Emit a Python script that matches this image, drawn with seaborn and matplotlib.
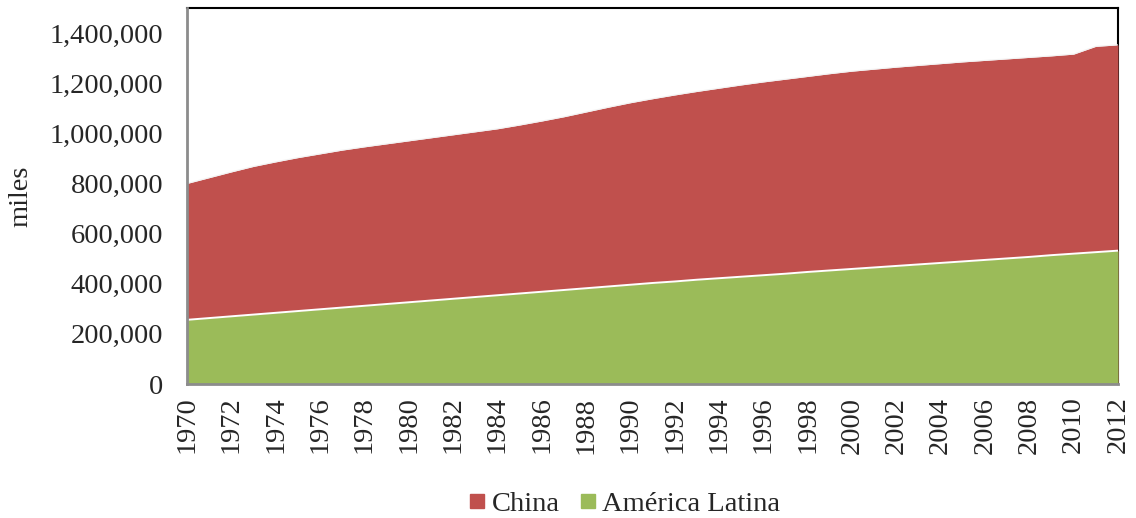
import numpy as np
import pandas as pd
import matplotlib
matplotlib.use("Agg")
import matplotlib.pyplot as plt
from matplotlib.lines import Line2D
import seaborn as sns

years = list(range(1970, 2013))
china = [800, 823, 846, 868, 886, 903, 918, 933, 946, 958,
         970, 982, 994, 1006, 1018, 1033, 1049, 1066, 1085, 1104,
         1122, 1138, 1153, 1167, 1180, 1193, 1205, 1216, 1227, 1238,
         1248, 1256, 1264, 1271, 1278, 1285, 1291, 1297, 1303, 1309,
         1316, 1347, 1353]
latam = [256, 263, 270, 277, 284, 291, 298, 305, 312, 319,
         326, 333, 340, 347, 354, 361, 368, 375, 382, 389,
         396, 403, 409, 416, 422, 428, 434, 440, 447, 453,
         459, 465, 471, 477, 483, 489, 495, 501, 507, 514,
         520, 526, 532]
series_names = ["China", "América Latina"]
colors = ["#C0504D", "#9BBB59"]

df = pd.DataFrame({"year": years,
                   "China": np.array(china) * 1000,
                   "América Latina": np.array(latam) * 1000})

sns.set_theme(style="white")
plt.rcParams["font.family"] = ["Liberation Serif", "DejaVu Serif"]

fig = plt.figure(figsize=(11.36, 5.18), dpi=100)
ax = fig.add_axes([187/1136, 1-384/518, (1118-187)/1136, (384-8)/518])

edge_colors = ["#f2f2f2", "white"]
for i, name in enumerate(series_names):
    ax.fill_between(df["year"], 0, df[name], color=colors[i], linewidth=0, zorder=2+i*2)
    sns.lineplot(data=df, x="year", y=name, ax=ax, color=edge_colors[i],
                 linewidth=1.4 if i else 0.8, zorder=3+i*2)

ax.set_xlim(1970, 2012)
ax.set_ylim(0, 1500000)
ax.set_xticks(years[::2])
ax.set_xticklabels([str(y) for y in years[::2]], rotation=90, fontsize=20.5)
ax.set_yticks(np.arange(0, 1400001, 200000))
ax.set_yticklabels([f"{v:,}" for v in range(0, 1400001, 200000)], fontsize=20.5)
ax.tick_params(axis="y", length=0, pad=17)
ax.tick_params(axis="x", length=0, pad=9)
ax.set_xlabel("")
ax.set_ylabel("miles", fontsize=20.5, va="center")
ax.yaxis.set_label_coords((21-187)/931, (384-196)/376)

for side in ["top", "right"]:
    ax.spines[side].set_color("black")
    ax.spines[side].set_linewidth(1.5)
    ax.spines[side].set_zorder(1)
for side in ["left", "bottom"]:
    ax.spines[side].set_color("#8c8c8c")
    ax.spines[side].set_linewidth(2)
    ax.spines[side].set_zorder(10)

handles = [Line2D([], [], marker="s", linestyle="none", markersize=10,
                  markerfacecolor=c, markeredgecolor=c) for c in colors]
fig.legend(handles, series_names, loc="center", bbox_to_anchor=(623/1136, 1-504/518),
           ncol=2, frameon=False, fontsize=20.5, handletextpad=0.1, columnspacing=0.6,
           handlelength=0.8)

fig.savefig("out.png", dpi=100)
